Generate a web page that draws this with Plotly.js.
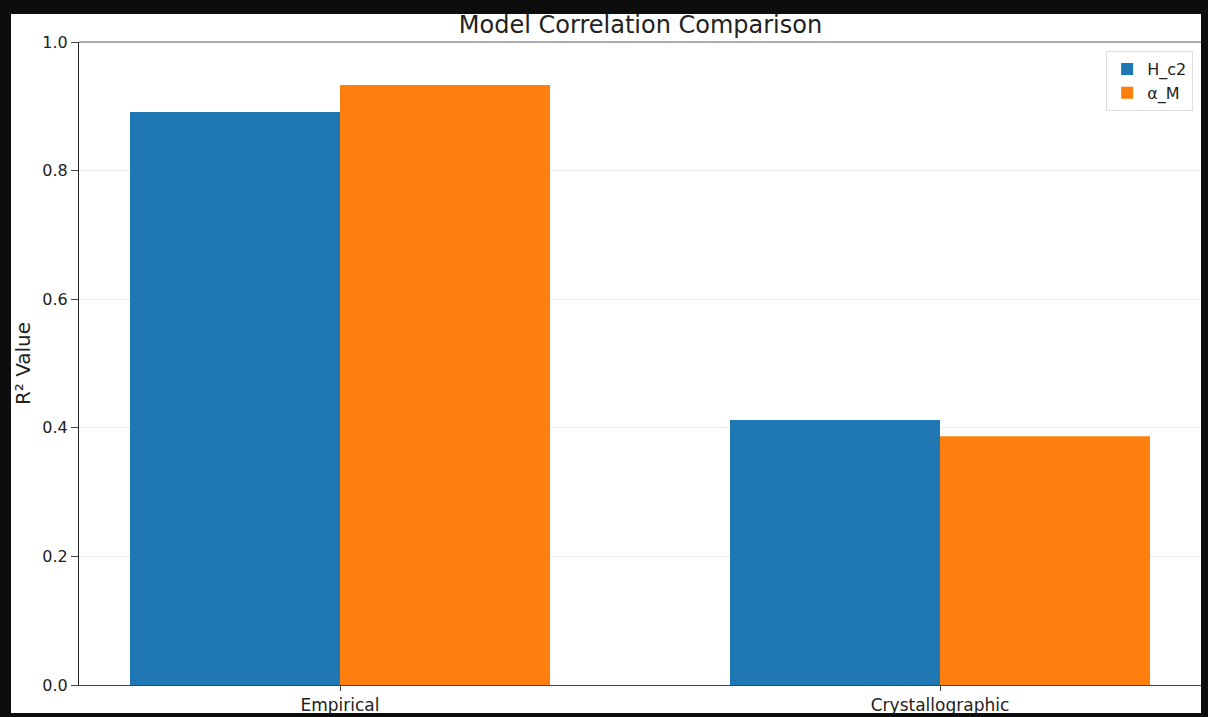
<!DOCTYPE html>
<html>
<head>
<meta charset="utf-8">
<script src="https://cdn.plot.ly/plotly-3.0.1.min.js"></script>
<style>
  html, body { margin: 0; padding: 0; background: #0d0d0d; width: 1208px; height: 717px; overflow: hidden; }
  #chart { position: absolute; left: 11px; top: 14px; width: 1190px; height: 699px; background: #fff; }
</style>
</head>
<body>
<div id="chart"></div>
<script>
const categories = ["Empirical", "Crystallographic"];
const categoryPositions = [0, 1];
const hc2Values = [0.891, 0.412];
const alphaMValues = [0.933, 0.387];
const seriesNames = ["H_c2", "α_M"];
const yTickValues = [0.0, 0.2, 0.4, 0.6, 0.8, 1.0];
const yTickText = ["0.0", "0.2", "0.4", "0.6", "0.8", "1.0"];

const font = "DejaVu Sans, sans-serif";

const traces = [
  { type: "bar", name: seriesNames[0], x: categoryPositions, y: hc2Values,
    marker: { color: "#1f77b4", line: { width: 0 } }, hoverinfo: "skip" },
  { type: "bar", name: seriesNames[1], x: categoryPositions, y: alphaMValues,
    marker: { color: "#ff7f0e", line: { width: 0 } }, hoverinfo: "skip" }
];

const layout = {
  width: 1190, height: 699,
  margin: { l: 68, r: 0, t: 28, b: 28, pad: 0 },
  paper_bgcolor: "#ffffff", plot_bgcolor: "#ffffff",
  font: { family: font, color: "#222", size: 16 },
  barmode: "group", bargap: 0.3, bargroupgap: 0,
  title: { text: "Model Correlation Comparison", font: { family: font, size: 24, color: "#222" },
           x: 0.529, xanchor: "center", yref: "container", y: 1 - 11/699, yanchor: "middle" },
  xaxis: {
    range: [-0.435, 1.435], tickmode: "array", tickvals: categoryPositions, ticktext: categories,
    showgrid: false, zeroline: false, showline: true, linecolor: "#444", linewidth: 1,
    ticks: "outside", ticklen: 5, tickcolor: "#444", tickfont: { size: 17, color: "#222" }
  },
  yaxis: {
    range: [0, 1], tickmode: "array", tickvals: yTickValues, ticktext: yTickText,
    showgrid: true, gridcolor: "#ececec", gridwidth: 1, zeroline: false,
    showline: true, linecolor: "#222", linewidth: 1,
    ticks: "outside", ticklen: 7, tickcolor: "#444", tickfont: { size: 16, color: "#222" },
    title: { text: "R² Value", font: { size: 20, color: "#222" }, standoff: 14 }
  },
  shapes: [
    { type: "line", xref: "paper", yref: "paper", x0: 0, x1: 1, y0: 1, y1: 1,
      line: { color: "#909090", width: 1.5 } }
  ],
  legend: {
    x: 0.993, xanchor: "right", y: 0.986, yanchor: "top",
    bgcolor: "rgba(255,255,255,0.9)", bordercolor: "#dddddd", borderwidth: 1,
    font: { size: 16, color: "#222" }, tracegroupgap: 2
  },
  showlegend: true
};

Plotly.newPlot("chart", traces, layout, { displayModeBar: false, staticPlot: true });
</script>
</body>
</html>
